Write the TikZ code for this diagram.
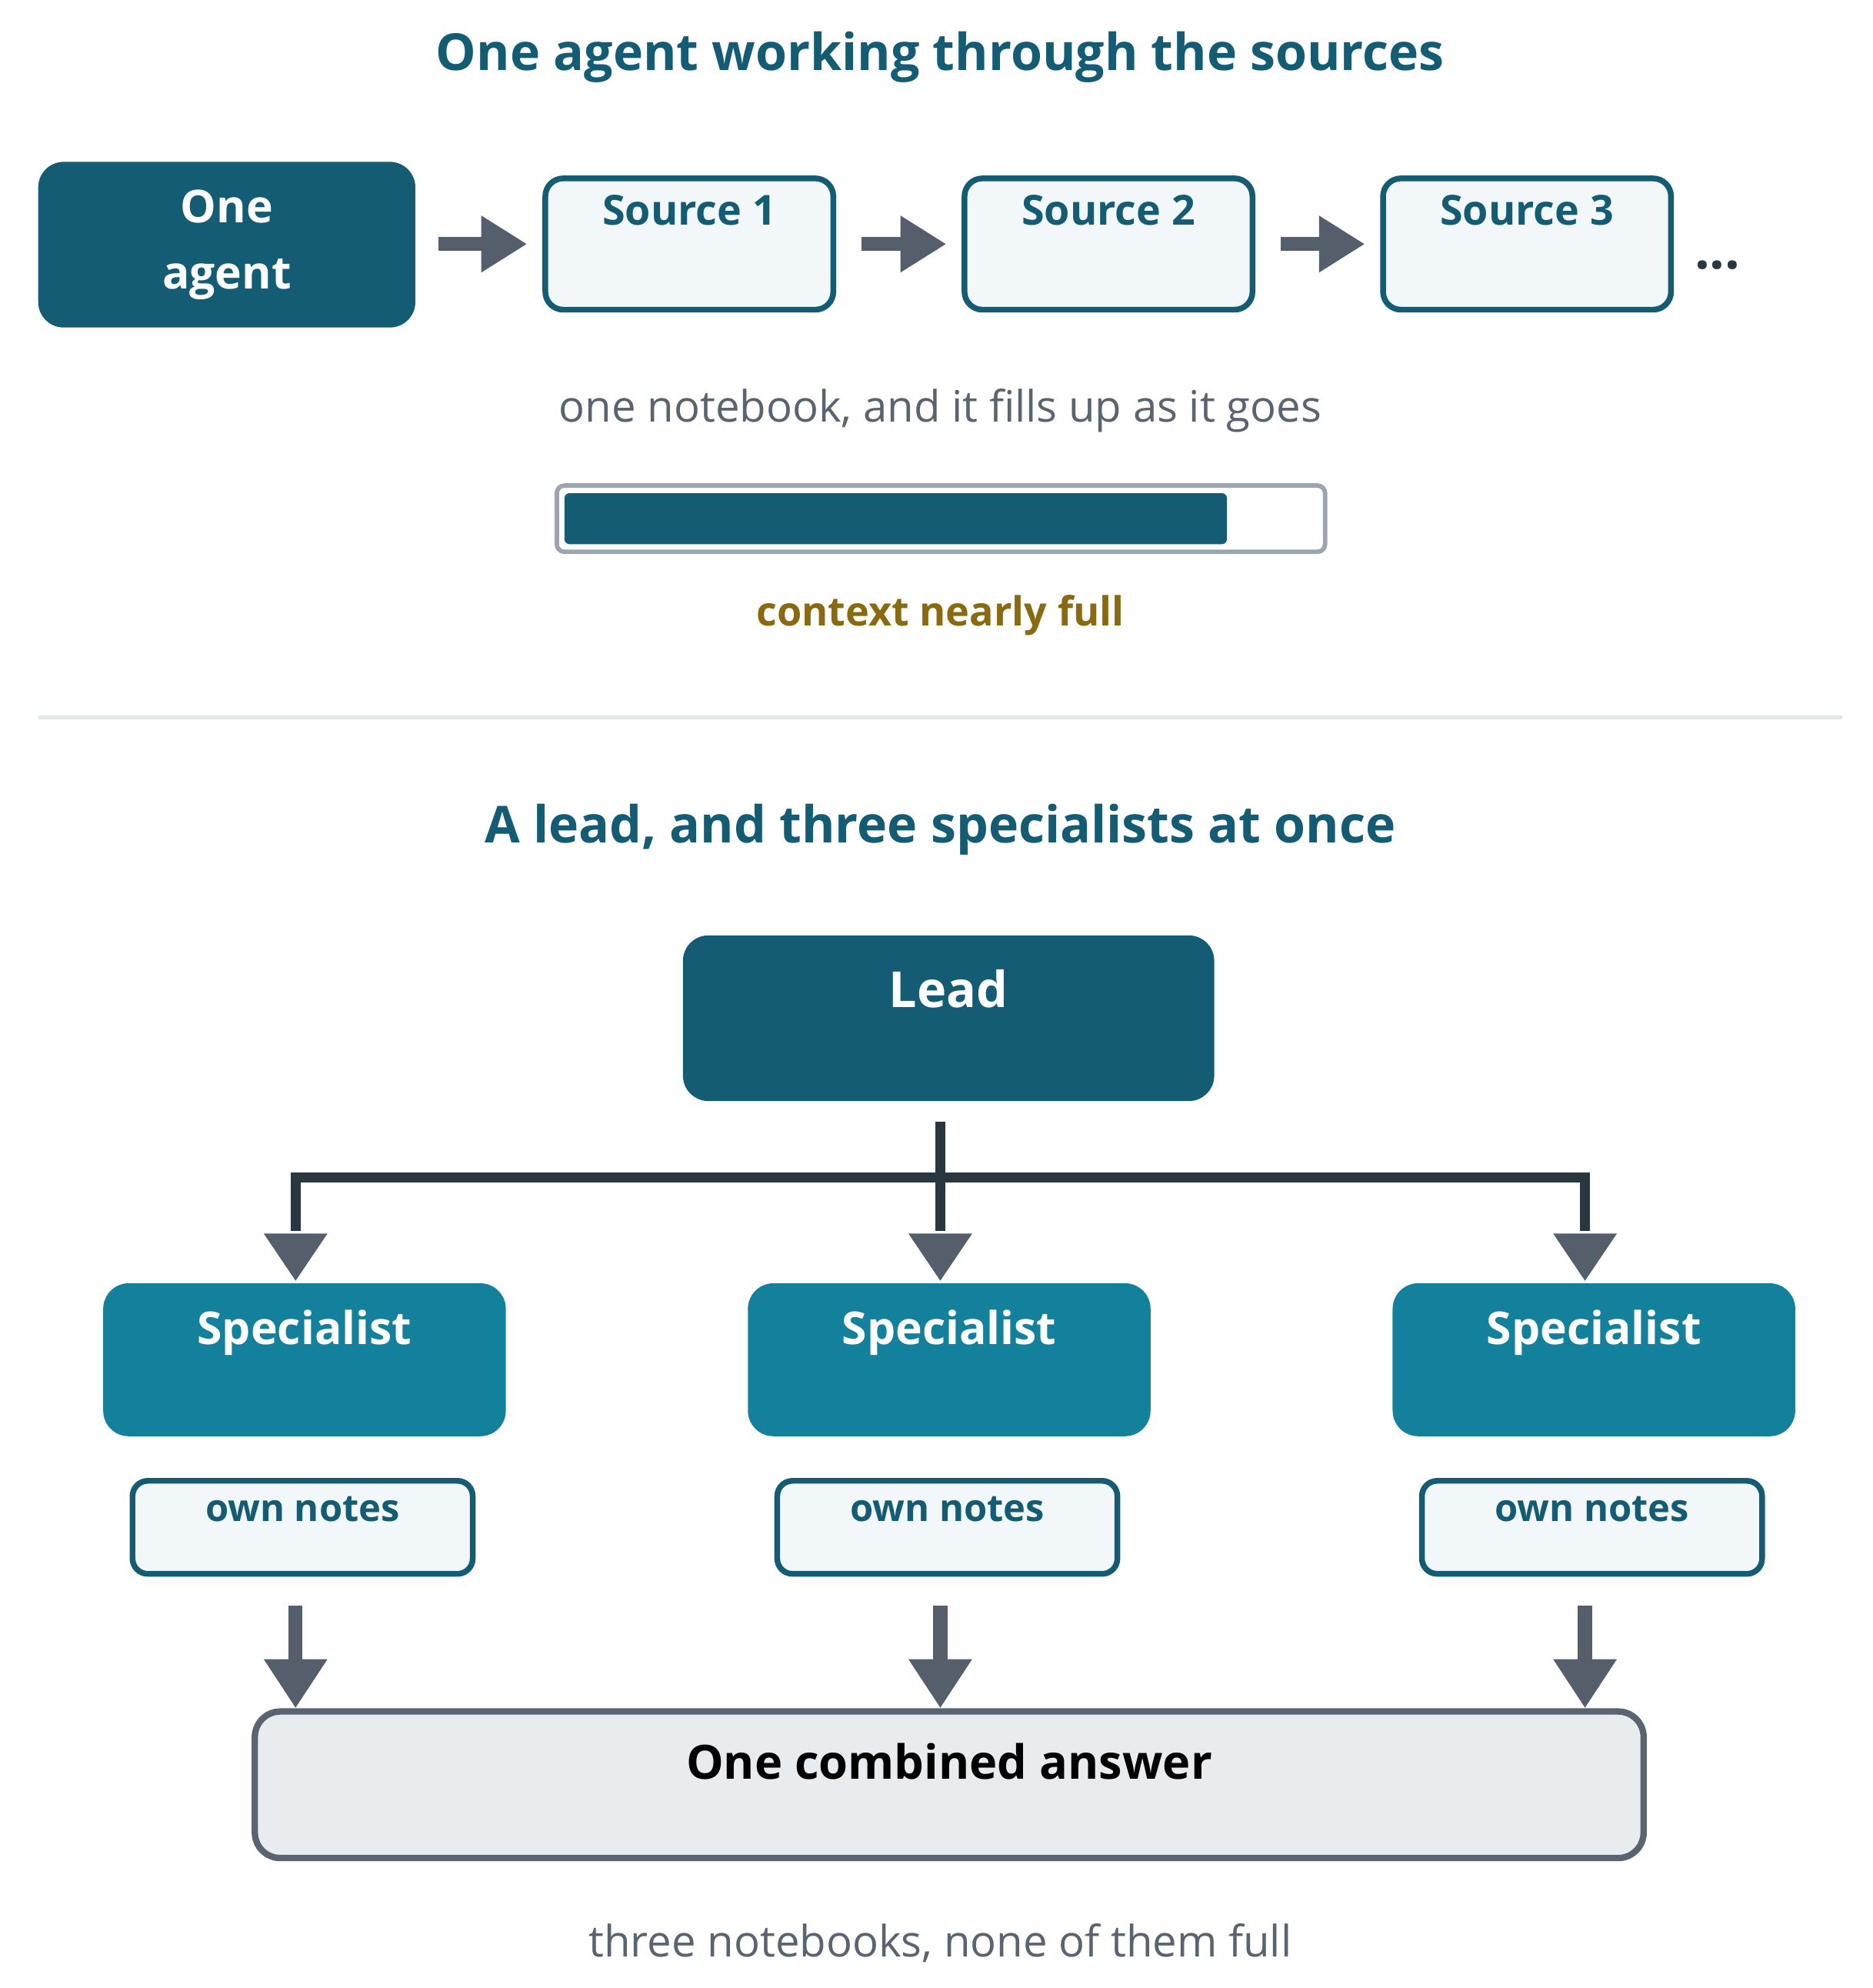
\documentclass[tikz,border=0pt]{standalone}
\usepackage{fontspec}
\setmainfont{Open Sans}
\usetikzlibrary{arrows.meta,calc}
\definecolor{teal}{HTML}{135C74}
\definecolor{spec}{HTML}{13809C}
\definecolor{light}{HTML}{F2F7FA}
\definecolor{gr}{HTML}{555F6B}
\definecolor{txtg}{HTML}{5A6470}
\definecolor{dk}{HTML}{2A3740}
\definecolor{gold}{HTML}{8A6A10}
\definecolor{barb}{HTML}{9AA5B0}
\definecolor{sep}{HTML}{E1E6EA}
\definecolor{comb}{HTML}{E8ECEF}
\begin{document}
\begin{tikzpicture}[x=1pt,y=-1pt,
 title/.style={font=\fontsize{40}{44}\selectfont\bfseries,text=teal},
 dark/.style={fill=teal,rounded corners=20pt,text=white,font=\fontsize{35.5}{52}\selectfont\bfseries,align=center},
 src/.style={draw=teal,line width=4.5pt,fill=light,rounded corners=14pt,minimum width=226pt,minimum height=103pt},
 srct/.style={font=\fontsize{32.5}{36}\selectfont\bfseries,text=teal},
 spec/.style={fill=spec,rounded corners=20pt,minimum width=316pt,minimum height=120pt},
 whitet/.style={font=\fontsize{35.5}{40}\selectfont\bfseries,text=white},
 note/.style={draw=teal,line width=4.5pt,fill=light,rounded corners=12pt,minimum width=267pt,minimum height=73pt},
 notet/.style={font=\fontsize{29.5}{34}\selectfont\bfseries,text=teal},
 gt/.style={font=\fontsize{34}{40}\selectfont,text=txtg},
 garrow/.style={draw=gr,line width=11pt,-{Triangle[width=42pt,length=36pt]}},
 tree/.style={draw=dk,line width=8pt},
 head/.style={fill=gr}]
\useasboundingbox (0,0) rectangle (1470,1560);
\node[title] (t1) at (738,45) {One agent working through the sources};
\node[dark,minimum width=296pt,minimum height=130pt] (agent) at (178,192) {One\\agent};
\node[src] (s1) at (541,191.5) {};
\node[src] (s2) at (870,191.5) {};
\node[src] (s3) at (1198.5,191.5) {};
\node[srct] (s1t) at (541,165) {Source 1};
\node[srct] (s2t) at (870,165) {Source 2};
\node[srct] (s3t) at (1198.5,165) {Source 3};
\node[font=\fontsize{42}{42}\selectfont\bfseries,text=dk] (dots) at (1348,208) {...};
\draw[garrow,shorten <=18pt,shorten >=12pt] (agent.east|-s1.west) -- (s1.west);
\draw[garrow,shorten <=20pt,shorten >=12pt] (s1.east) -- (s2.west);
\draw[garrow,shorten <=20pt,shorten >=12pt] (s2.east) -- (s3.west);
\node[gt] (nb) at (738,322) {one notebook, and it fills up as it goes};
\node[draw=barb,line width=3.5pt,fill=white,rounded corners=6pt,minimum width=603pt,minimum height=52pt] (bar) at (738.5,407) {};
\fill[teal,rounded corners=4pt] (443,387) rectangle (963,427);
\node[font=\fontsize{31.5}{36}\selectfont\bfseries,text=gold] (full) at (738,483) {context nearly full};
\draw[line width=3pt,color=sep] (30,563) coordinate (l1) -- (1446,563) coordinate (l2);
\node[title] (t2) at (738,651) {A lead, and three specialists at once};
\node[dark,minimum width=417pt,minimum height=130pt] (lead) at (744.5,799) {};
\node[whitet,font=\fontsize{39}{44}\selectfont\bfseries] (leadt) at (744.5,776) {Lead};
\foreach \i/\x in {1/239,2/745,3/1251}{
 \node[spec] (sp\i) at (\x,1067) {};
 \node[whitet] (sp\i t) at (\x,1046) {Specialist};
 \node[note] (n\i) at (\x-1.5,1198.5) {};
 \node[notet] (n\i t) at (\x-1.5,1184) {own notes};
}
\coordinate (j) at (738,924);
\draw[tree] (738,880) -- (j);
\draw[tree] (232,966) -- (232,924) -- (1244,924) -- (1244,966);
\draw[tree] (j) -- (738,966);
\foreach \x in {232,738,1244}{
 \fill[head] (\x-25,968) -- (\x+25,968) -- (\x,1005) -- cycle;
 \draw[draw=gr,line width=11pt] (\x,1260) -- (\x,1303);
 \fill[head] (\x-25,1302) -- (\x+25,1302) -- (\x,1340) -- cycle;
}
\node[draw=txtg,line width=5pt,fill=comb,rounded corners=20pt,minimum width=1090pt,minimum height=115pt] (comb) at (745,1400.5) {};
\node[font=\fontsize{37}{40}\selectfont\bfseries,text=black] (combt) at (745,1382) {One combined answer};
\node[gt] (three) at (738,1525) {three notebooks, none of them full};
\end{tikzpicture}
\end{document}
